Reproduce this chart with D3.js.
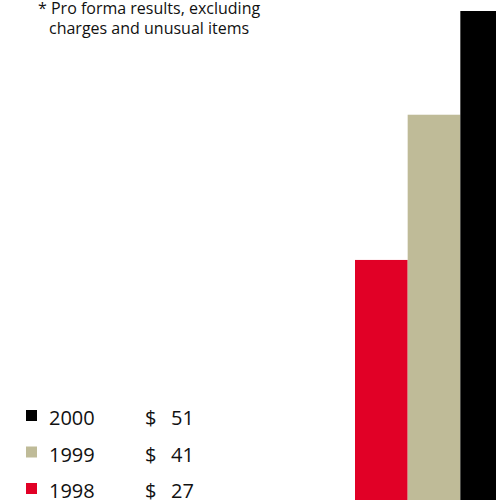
<!DOCTYPE html>
<html>
<head>
<meta charset="utf-8">
<script src="https://cdn.jsdelivr.net/npm/d3@7"></script>
<style>
  body { margin: 0; background: #fff; }
  svg { display: block; font-family: 'Open Sans', sans-serif; }
</style>
</head>
<body>
<div class="chart"></div>
<script>
// values per year (pro forma figures)
const years = ['1998', '1999', '2000'];
const values = [27, 41, 51];
const colors = ['#e10026', '#bfbb98', '#000000'];
const noteLines = ['* Pro forma results, excluding', 'charges and unusual items'];

const width = 496;
const height = 500;

const svg = d3.select('.chart')
  .append('svg')
  .attr('width', width)
  .attr('height', height);

// baseline sits below the visible area, the bars are cropped
const x = d3.scaleBand()
  .domain(years)
  .range([355, 513])
  .padding(0);

const y = d3.scaleLinear()
  .domain([0, 51])
  .range([540, 11]);

svg.selectAll('rect.bar')
  .data(years)
  .enter()
  .append('rect')
  .attr('class', 'bar')
  .attr('x', (d) => x(d))
  .attr('y', (d, i) => y(values[i]))
  .attr('width', x.bandwidth())
  .attr('height', (d, i) => y(0) - y(values[i]))
  .attr('fill', (d, i) => colors[i]);

// footnote at top left
svg.append('text')
  .attr('x', 38)
  .attr('y', 14)
  .attr('font-size', 16)
  .attr('fill', '#111')
  .text(noteLines[0]);

svg.append('text')
  .attr('x', 49)
  .attr('y', 34)
  .attr('font-size', 16)
  .attr('fill', '#111')
  .text(noteLines[1]);

// legend, newest year on top
const order = [2, 1, 0];
const legend = svg.selectAll('g.legend')
  .data(order)
  .enter()
  .append('g')
  .attr('class', 'legend')
  .attr('transform', (d, i) => `translate(0, ${425 + i * 36.5})`);

legend.append('rect')
  .attr('x', 26)
  .attr('y', -15)
  .attr('width', 11)
  .attr('height', 11)
  .attr('fill', (d) => colors[d]);

legend.append('text')
  .attr('x', 49)
  .attr('y', 0)
  .attr('font-size', 20)
  .attr('fill', '#111')
  .text((d) => years[d]);

legend.append('text')
  .attr('x', 145)
  .attr('y', 0)
  .attr('font-size', 20)
  .attr('fill', '#111')
  .text('$');

legend.append('text')
  .attr('x', 171)
  .attr('y', 0)
  .attr('font-size', 20)
  .attr('fill', '#111')
  .text((d) => values[d]);
</script>
</body>
</html>
